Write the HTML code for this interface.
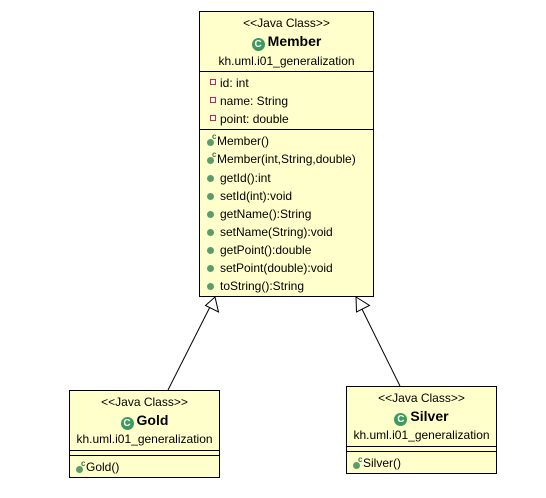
<!DOCTYPE html>
<html><head><style>
body{margin:0;width:546px;height:498px;background:#fff;position:relative;overflow:hidden;font-family:"Liberation Sans",sans-serif;font-size:12px;color:#000}
.box{position:absolute;background:#ffffcc;border:1px solid #000;box-sizing:border-box}
.t{position:absolute;white-space:nowrap;line-height:14px}
.c{position:absolute;left:0;right:0;text-align:center;white-space:nowrap;line-height:14px}
.hl{position:absolute;left:0;right:0;height:0;border-top:1px solid #000}
.b{font-weight:bold;font-size:14px;line-height:16px}
.g{display:inline-block;width:13px;height:13px;border-radius:50%;background:#3d9a5e;color:#fff;font-size:10px;font-weight:bold;line-height:13px;text-align:center;vertical-align:-1px;margin-right:3px}
.sq{position:absolute;width:4px;height:4px;border:1px solid #c8283c;background:#fff;}
.dot{position:absolute;width:7px;height:7px;border-radius:50%;background:#5a9d6c;}
.cc{position:absolute;font-size:8px;font-weight:bold;color:#3d7a3d;line-height:8px}
</style></head><body>
<svg width="546" height="498" style="position:absolute;left:0;top:0">
<line x1="168" y1="390" x2="215" y2="297" stroke="#000"/>
<polygon points="215,297 218.5,312 205.5,305.5" fill="#fff" stroke="#000"/>
<line x1="400" y1="386" x2="356" y2="297" stroke="#000"/>
<polygon points="356,297 369.5,305.5 356.5,312" fill="#fff" stroke="#000"/>
</svg>

<div class="box" style="left:199px;top:11px;width:175px;height:286px">
<div class="c" style="top:4px">&lt;&lt;Java Class&gt;&gt;</div>
<div class="c b" style="top:21px"><span class="g">C</span>Member</div>
<div class="c" style="top:42px">kh.uml.i01_generalization</div>
<div class="hl" style="top:59px"></div>
<div class="sq" style="left:10px;top:67px"></div><div class="t" style="left:20px;top:64px">id: int</div>
<div class="sq" style="left:10px;top:85px"></div><div class="t" style="left:20px;top:82px">name: String</div>
<div class="sq" style="left:10px;top:103px"></div><div class="t" style="left:20px;top:100px">point: double</div>
<div class="hl" style="top:117px"></div>
<div class="dot" style="left:7px;top:127px"></div><div class="cc" style="left:12px;top:121px">c</div><div class="t" style="left:17px;top:122px">Member()</div>
<div class="dot" style="left:7px;top:145px"></div><div class="cc" style="left:12px;top:139px">c</div><div class="t" style="left:17px;top:140px">Member(int,String,double)</div>
<div class="dot" style="left:7px;top:163px"></div><div class="t" style="left:20px;top:159px">getId():int</div>
<div class="dot" style="left:7px;top:181px"></div><div class="t" style="left:20px;top:177px">setId(int):void</div>
<div class="dot" style="left:7px;top:199px"></div><div class="t" style="left:20px;top:195px">getName():String</div>
<div class="dot" style="left:7px;top:217px"></div><div class="t" style="left:20px;top:213px">setName(String):void</div>
<div class="dot" style="left:7px;top:235px"></div><div class="t" style="left:20px;top:231px">getPoint():double</div>
<div class="dot" style="left:7px;top:253px"></div><div class="t" style="left:20px;top:249px">setPoint(double):void</div>
<div class="dot" style="left:7px;top:271px"></div><div class="t" style="left:20px;top:267px">toString():String</div>
</div>

<div class="box" style="left:69px;top:390px;width:151px;height:88px">
<div class="c" style="top:4px">&lt;&lt;Java Class&gt;&gt;</div>
<div class="c b" style="top:21px"><span class="g">C</span>Gold</div>
<div class="c" style="top:41px">kh.uml.i01_generalization</div>
<div class="hl" style="top:59px"></div>
<div class="hl" style="top:64px"></div>
<div class="dot" style="left:6px;top:75px"></div><div class="cc" style="left:11px;top:69px">c</div><div class="t" style="left:16px;top:69px">Gold()</div>
</div>

<div class="box" style="left:346px;top:386px;width:151px;height:88px">
<div class="c" style="top:4px">&lt;&lt;Java Class&gt;&gt;</div>
<div class="c b" style="top:21px"><span class="g">C</span>Silver</div>
<div class="c" style="top:41px">kh.uml.i01_generalization</div>
<div class="hl" style="top:59px"></div>
<div class="hl" style="top:64px"></div>
<div class="dot" style="left:6px;top:75px"></div><div class="cc" style="left:11px;top:69px">c</div><div class="t" style="left:16px;top:69px">Silver()</div>
</div>
</body></html>
